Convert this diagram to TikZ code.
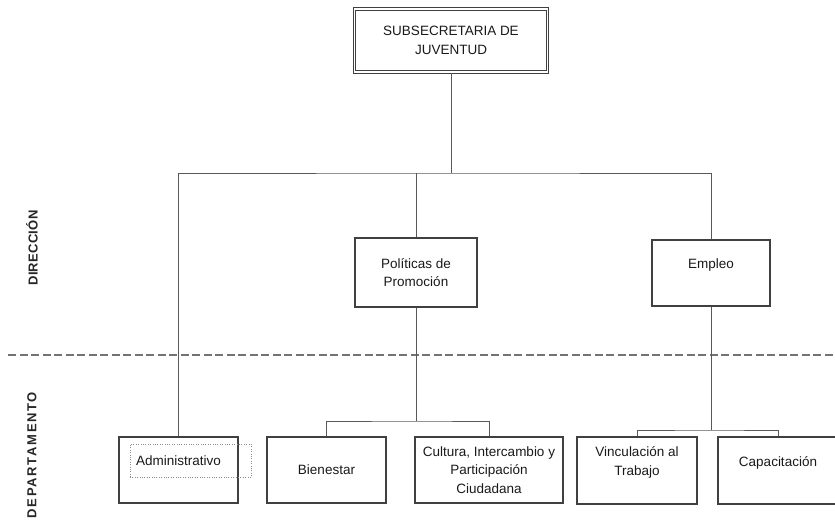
\documentclass[tikz,border=0pt]{standalone}
\usepackage{fontspec}
\setmainfont{Liberation Sans}
\begin{document}
\begin{tikzpicture}[x=1pt,y=-1pt,font=\fontsize{13.5}{18.5}\selectfont,
    box/.style={draw=black!75,line width=1.3pt,text=black!90,align=center,
        inner sep=3pt,minimum width=119pt,minimum height=66pt},
    topbox/.style={box,double=white,double distance=1.4pt,line width=1pt,
        minimum width=193pt,minimum height=63pt},
    link/.style={draw=black!65,line width=1pt},
    band/.style={font=\fontsize{13}{15}\selectfont\bfseries,text=black!85,rotate=90}]
    \useasboundingbox (0,0) rectangle (835,523);
    % levels
    \draw[black!55,line width=1.1pt,dash pattern=on 8pt off 3.5pt] (8,355) -- (835,355);
    \node[band] (dir) at (32,248) {\addfontfeature{LetterSpace=2}DIRECCIÓN};
    \node[band] (dep) at (32,455) {\addfontfeature{LetterSpace=13}DEPARTAMENTO};
    % boxes
    \node[topbox] (sub) at (451,40.5) {SUBSECRETARIA DE\\JUVENTUD};
    \node[box,minimum width=122pt,minimum height=69pt] (pol) at (416,272.5) {Políticas de\\Promoción};
    \node[box,minimum width=118pt] (emp) at (711,273) {Empleo\\ \mbox{}};
    \node[box] (adm) at (178.5,470) {};
    \node[draw=black!45,dotted,align=left,text width=109pt,inner xsep=6pt,
        minimum height=33pt,text=black!90] (admtxt) at (190.5,460.5) {Administrativo};
    \node[box] (bien) at (326.5,470) {Bienestar};
    \node[box,minimum width=148pt] (cult) at (489,470) {Cultura, Intercambio y\\Participación\\Ciudadana};
    \node[box,minimum width=120pt,minimum height=67pt] (vinc) at (637,470.5) {Vinculación al\\Trabajo\\ \mbox{}};
    \node[box,minimum width=120pt,minimum height=67pt] (capa) at (778,470.5) {Capacitación\\ \mbox{}};
    % connectors
    \coordinate (bar) at (451,173);
    \coordinate (pj) at (416,421);
    \coordinate (ej) at (711,430);
    \draw[link] (sub) -- (bar);
    \draw[link] (adm.north) |- (bar) -| (emp.north);
    \draw[link] (pol.north) -- (pol.north |- bar);
    \draw[link] (pol) -- (pj);
    \draw[link] (bien.north) |- (pj) -| (cult.north);
    \draw[link] (emp) -- (ej);
    \draw[link] (vinc.north) |- (ej) -| (capa.north);
\end{tikzpicture}
\end{document}
